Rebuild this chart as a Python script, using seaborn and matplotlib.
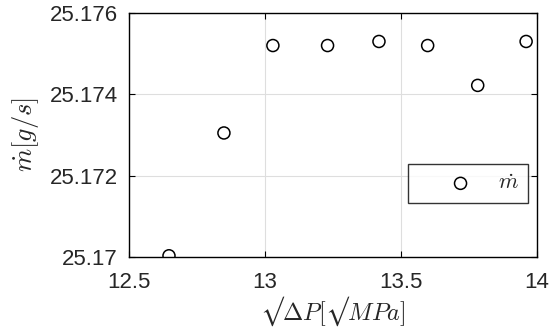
import matplotlib
matplotlib.use("Agg")
import matplotlib.pyplot as plt
import seaborn as sns
import pandas as pd

sqrt_dp = [12.647, 12.849, 13.029, 13.230, 13.419, 13.598, 13.782, 13.960]
mdot = [25.17003, 25.17305, 25.17520, 25.17520, 25.17530, 25.17520, 25.17422, 25.17530]
xticks = [12.5, 13, 13.5, 14]
xticklabels = ["12.5", "13", "13.5", "14"]
yticks = [25.170, 25.172, 25.174, 25.176]
yticklabels = ["25.17", "25.172", "25.174", "25.176"]

df = pd.DataFrame({"x": sqrt_dp, "y": mdot})

sns.set_theme(style="white")
plt.rcParams["font.family"] = ["Liberation Sans", "DejaVu Sans"]
plt.rcParams["mathtext.fontset"] = "cm"

fig = plt.figure(figsize=(5.54, 3.33), dpi=100)
ax = fig.add_axes([129/554, 1-257/333, (537-129)/554, (257-13)/333])

sns.scatterplot(data=df, x="x", y="y", ax=ax, marker="o", s=75,
                facecolors="none", edgecolor="black", linewidth=1.1,
                label=r"$\dot{m}$", zorder=3)

ax.set_xlim(12.5, 14)
ax.set_ylim(25.170, 25.176)
ax.set_xticks(xticks)
ax.set_xticklabels(xticklabels)
ax.set_yticks(yticks)
ax.set_yticklabels(yticklabels)
ax.grid(True, color="#dedede", linewidth=0.8)
ax.tick_params(direction="in", length=4, width=0.8, colors="black",
               labelsize=16, top=True, right=True, bottom=True, left=True,
               labelcolor="#262626")
ax.tick_params(axis="x", pad=11)
ax.tick_params(axis="y", pad=8)
for s in ax.spines.values():
    s.set_color("black")
    s.set_linewidth(1.0)

ax.set_xlabel("$\u221a\\Delta P[\u221a MPa]$", fontsize=17.5, labelpad=1, color="#262626")
ax.set_ylabel(r"$\dot{m}[g/s]$", fontsize=19, labelpad=6, color="#262626")

leg = ax.legend(loc="lower right", bbox_to_anchor=(0.978, 0.221), frameon=True,
                fancybox=False, edgecolor="black", fontsize=16,
                handlelength=3.9, handletextpad=-0.25, borderpad=0.4,
                markerfirst=True, borderaxespad=0)
leg.get_frame().set_linewidth(1.0)
leg.get_frame().set_facecolor("white")

fig.savefig("out.png", dpi=100)
